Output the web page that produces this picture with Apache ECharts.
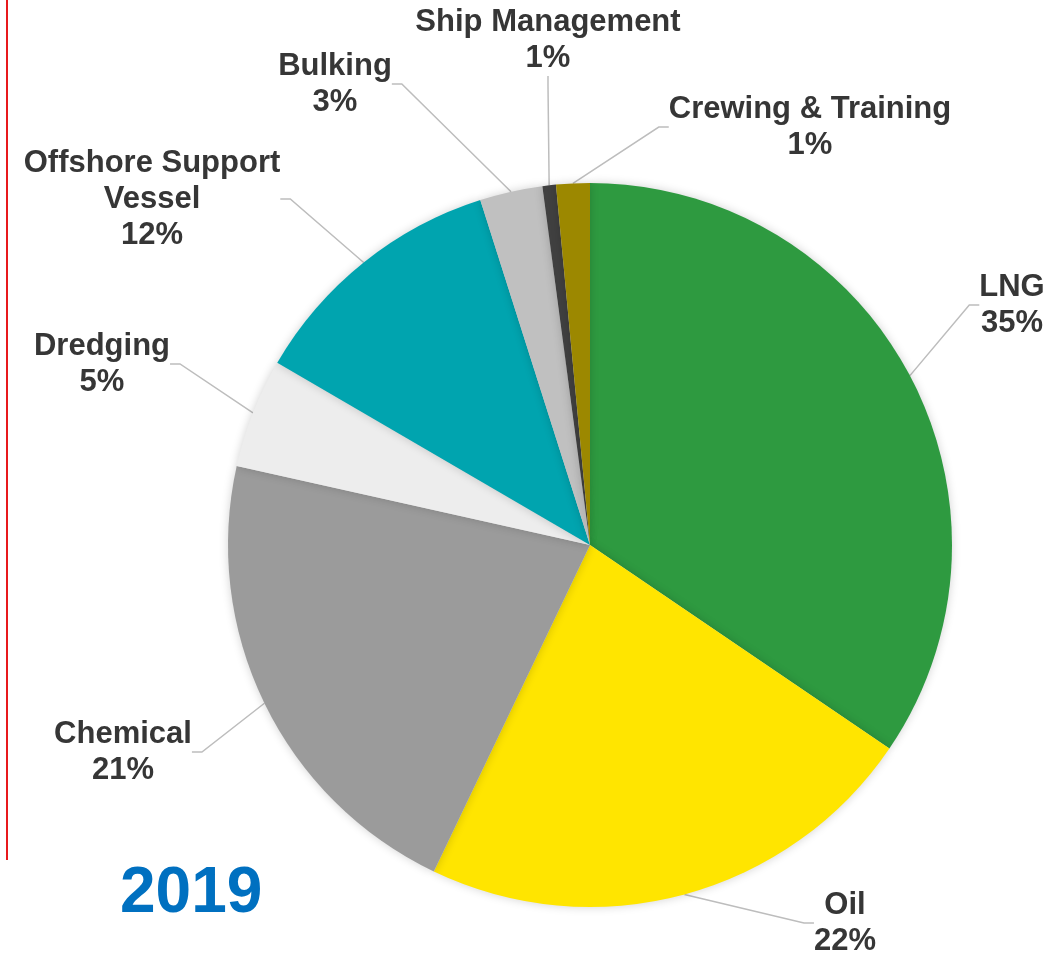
<!DOCTYPE html>
<html>
<head>
<meta charset="utf-8">
<script src="https://cdn.jsdelivr.net/npm/echarts@6/dist/echarts.min.js"></script>
<style>
    html, body { margin: 0; padding: 0; background: #fff; }
    #pieChart { width: 1064px; height: 957px; }
</style>
</head>
<body>
<div id="pieChart"></div>
<script>
    // 数据（从图上读出的份额）
    var categories = ['LNG', 'Oil', 'Chemical', 'Dredging', 'Offshore Support\nVessel', 'Bulking', 'Ship Management', 'Crewing & Training'];
    var shares = [34.5, 22.6, 21.4, 4.9, 11.7, 2.8, 0.6, 1.5];
    var shownPercent = ['35%', '22%', '21%', '5%', '12%', '3%', '1%', '1%'];
    var colors = ['#2E9A40', '#FFE500', '#9B9B9B', '#EDEDED', '#00A4AF', '#C0C0C0', '#404040', '#9C8800'];

    // 标签位置（文字中心）
    var labelPos = [
        [1012, 305], [845, 923], [123, 752], [102, 364],
        [152, 199], [335, 84], [548, 40], [810, 127]
    ];

    var seriesData = [];
    for (var i = 0; i < categories.length; i++) {
        seriesData.push({
            name: categories[i],
            value: shares[i],
            itemStyle: { color: colors[i] },
            label: { formatter: categories[i] + '\n' + shownPercent[i] }
        });
    }

    var chart = echarts.init(document.getElementById('pieChart'));
    var option = {
        animation: false,
        graphic: [
            {
                type: 'line',
                shape: { x1: 7, y1: 0, x2: 7, y2: 860 },
                style: { stroke: '#E8191C', lineWidth: 2 }
            },
            {
                type: 'text',
                left: 120,
                top: 862,
                style: {
                    text: '2019',
                    fill: '#0070C0',
                    font: 'bold 64px "Liberation Sans", Arial, sans-serif'
                }
            }
        ],
        series: [{
            type: 'pie',
            center: [590, 545],
            radius: 362,
            startAngle: 90,
            clockwise: true,
            data: seriesData,
            itemStyle: {
                shadowBlur: 10,
                shadowColor: 'rgba(0,0,0,0.18)'
            },
            label: {
                show: true,
                position: 'outside',
                fontFamily: '"Liberation Sans", Arial, sans-serif',
                fontWeight: 'bold',
                fontSize: 31,
                lineHeight: 36,
                color: '#363636',
                align: 'center',
                overflow: 'none'
            },
            labelLine: {
                show: true,
                length: 20,
                length2: 10,
                lineStyle: { color: '#BDBDBD', width: 1.5 }
            },
            labelLayout: function (params) {
                var p = labelPos[params.dataIndex];
                return { x: p[0], y: p[1], align: 'center', verticalAlign: 'middle' };
            }
        }]
    };
    chart.setOption(option);
</script>
</body>
</html>
